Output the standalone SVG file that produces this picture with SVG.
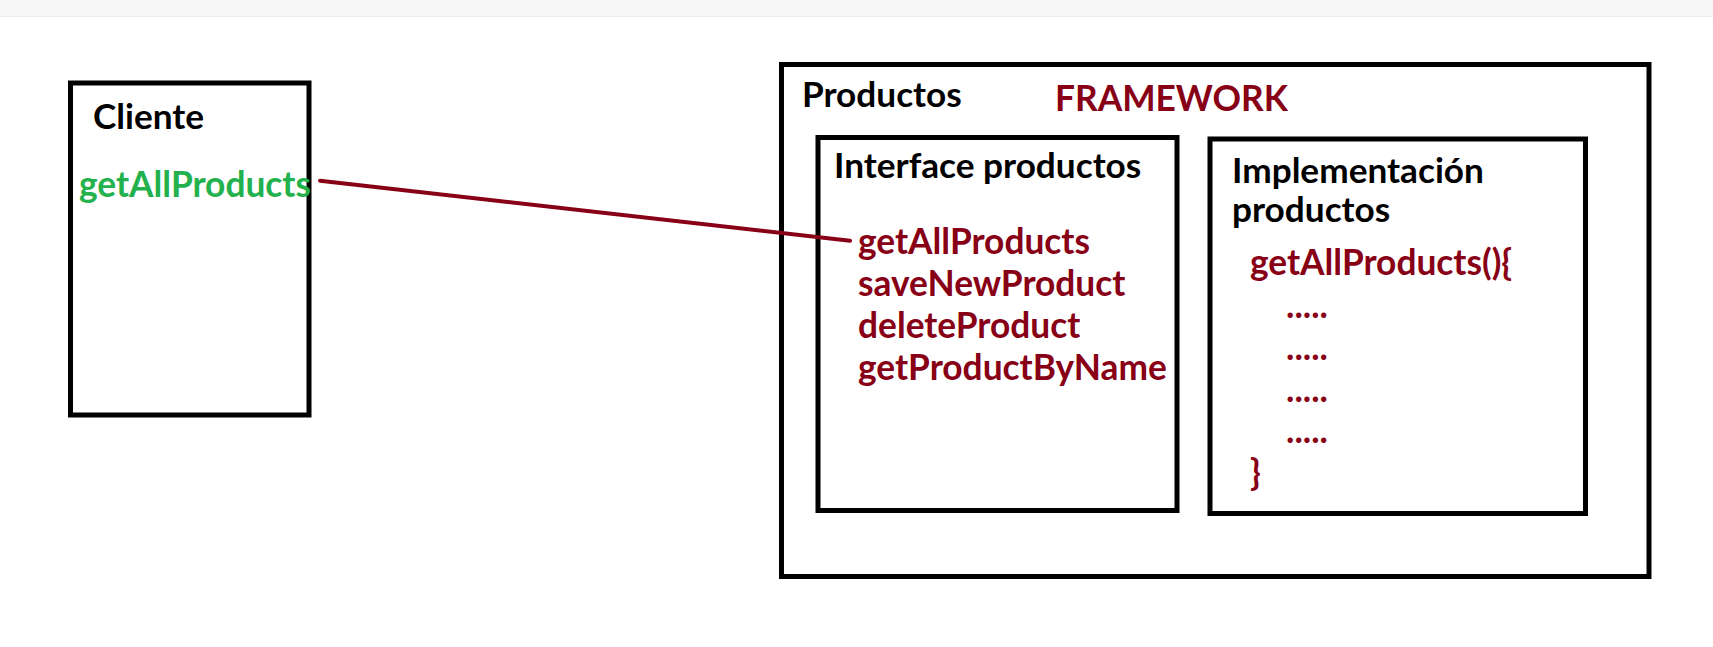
<svg xmlns="http://www.w3.org/2000/svg" width="1713" height="647" viewBox="0 0 1713 647">
<style>
.box{fill:none;stroke:#000;stroke-width:5}
.t{font-family:Lato,"Liberation Sans",sans-serif;font-weight:bold;font-size:35.3px}
.k{fill:#000;font-size:35.2px}
.r{fill:#880015}
.g{fill:#22b14c}
.conn{stroke:#880015;stroke-width:4;stroke-linecap:round;fill:none}
</style>
<rect x="0" y="0" width="1713" height="647" fill="#fff"/>
<rect x="0" y="0" width="1713" height="16" fill="#f7f7f7"/>
<line x1="0" y1="16.5" x2="1713" y2="16.5" stroke="#ececec" stroke-width="1"/>
<g id="cliente">
<rect class="box" x="70.5" y="83" width="238.5" height="332"/>
<text class="t k" x="93" y="129">Cliente</text>
<text class="t g" x="79" y="196.5">getAllProducts</text>
</g>
<g id="productos">
<rect class="box" x="781.5" y="64.5" width="867.5" height="512"/>
<text class="t k" x="802" y="107">Productos</text>
<text class="t r" x="1055" y="111">FRAMEWORK</text>
</g>
<g id="interface">
<rect class="box" x="818" y="137.5" width="359" height="373"/>
<text class="t k" x="834" y="178">Interface productos</text>
<text class="t r" x="858" y="253.5">getAllProducts</text>
<text class="t r" x="858" y="295.8">saveNewProduct</text>
<text class="t r" x="858" y="338">deleteProduct</text>
<text class="t r" x="858" y="380.3">getProductByName</text>
</g>
<g id="implementacion">
<rect class="box" x="1210" y="139" width="375.5" height="374.5"/>
<text class="t k" x="1232" y="183">Implementación</text>
<text class="t k" x="1232" y="221.5">productos</text>
<text class="t r" x="1250" y="275">getAllProducts(){</text>
<text class="t r" x="1286" y="318">.....</text>
<text class="t r" x="1286" y="360">.....</text>
<text class="t r" x="1286" y="401.5">.....</text>
<text class="t r" x="1286" y="443">.....</text>
<text class="t r" x="1250" y="485">}</text>
</g>
<g id="connectors">
<line class="conn" x1="320" y1="180.7" x2="850" y2="240.7"/>
</g>
</svg>
